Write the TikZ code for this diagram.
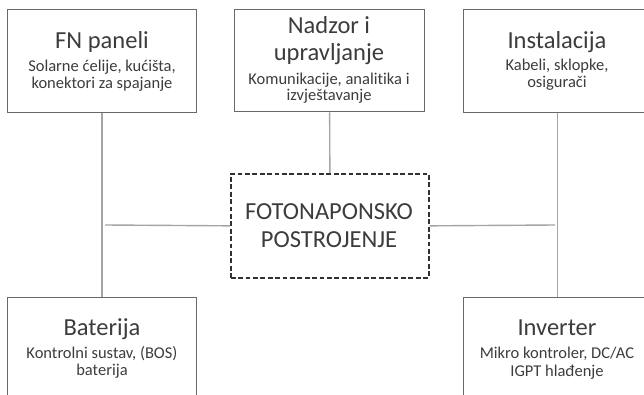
\documentclass[tikz,border=0pt]{standalone}
\usepackage{fontspec}
\setmainfont{Carlito}[Ligatures=NoCommon]
\definecolor{txt}{RGB}{60,60,60}
\definecolor{boxline}{RGB}{105,105,105}
\definecolor{conn}{RGB}{165,165,165}
\definecolor{dashc}{RGB}{50,50,50}
\begin{document}
\begin{tikzpicture}[x=1pt,y=-1pt,
  box/.style={draw=boxline, line width=1.3pt, inner sep=0pt, anchor=north west, fill=none},
  hubbox/.style={draw=dashc, line width=1.7pt, dash pattern=on 4.8pt off 2.6pt, inner sep=0pt, anchor=north west},
  ttl/.style={text=txt, font=\fontsize{24.5}{27}\selectfont, anchor=base, inner sep=0pt},
  sub/.style={text=txt, font=\fontsize{16.5}{16}\selectfont, anchor=base, inner sep=0pt},
  conline/.style={draw=conn, line width=1.4pt}]
\useasboundingbox (0,0) rectangle (644,395);
% boxes
\node[box, minimum width=189pt, minimum height=103pt] (fn) at (7,9) {};
\node[box, minimum width=190pt, minimum height=102pt] (nad) at (234,9) {};
\node[box, minimum width=188pt, minimum height=103pt] (ins) at (463,9) {};
\node[box, minimum width=189pt, minimum height=120pt] (bat) at (7,297) {};
\node[box, minimum width=188pt, minimum height=120pt] (inv) at (463,297) {};
\node[hubbox, minimum width=198pt, minimum height=104pt] (hub) at (230,173) {};
% connectors
\coordinate (lj) at (105,225);
\coordinate (rj) at (555,225);
\draw[conline] (fn.south) -- (bat.north);
\draw[conline] (ins.south) -- (inv.north);
\draw[conline] (nad.south) -- (hub.north);
\draw[conline] (lj) -- (hub.west);
\draw[conline] (hub.east) -- (rj);
% texts
\node[ttl] (fnT) at (102,49) {FN paneli};
\node[sub] (fnS1) at (102,72) {Solarne ćelije, kućišta,};
\node[sub] (fnS2) at (102,89) {konektori za spajanje};
\node[ttl] (nadT1) at (329,34) {Nadzor i};
\node[ttl] (nadT2) at (329,61) {upravljanje};
\node[sub] (nadS1) at (329,85) {Komunikacije, analitika i};
\node[sub] (nadS2) at (329,101) {izvještavanje};
\node[ttl] (insT) at (557,48.5) {Instalacija};
\node[sub] (insS1) at (557,71) {Kabeli, sklopke,};
\node[sub] (insS2) at (557,87.5) {osigurači};
\node[ttl] (batT) at (102,335) {Baterija};
\node[sub] (batS1) at (102,358) {Kontrolni sustav, (BOS)};
\node[sub] (batS2) at (102,375.5) {baterija};
\node[ttl] (invT) at (557,335) {Inverter};
\node[sub] (invS1) at (557,358.5) {Mikro kontroler, DC/AC};
\node[sub] (invS2) at (557,376.5) {IGPT hlađenje};
\node[ttl] (hubT1) at (329,219) {FOTONAPONSKO};
\node[ttl] (hubT2) at (329,247) {POSTROJENJE};
\end{tikzpicture}
\end{document}
